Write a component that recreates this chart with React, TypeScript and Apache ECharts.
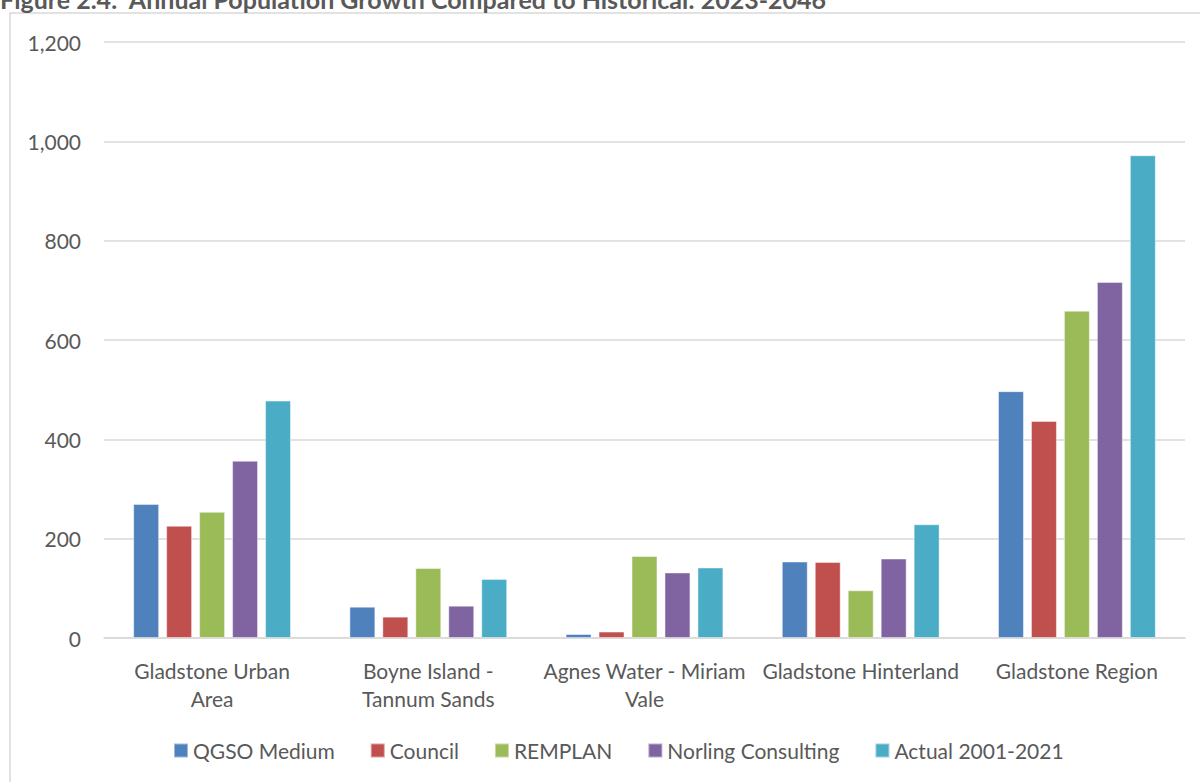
import React, { useEffect, useRef } from "react";
import * as echarts from "echarts";

// Regions along the category axis
const regions = [
  "Gladstone Urban Area",
  "Boyne Island - Tannum Sands",
  "Agnes Water - Miriam Vale",
  "Gladstone Hinterland",
  "Gladstone Region",
];
// Wrapped axis labels for the regions
const regionLabels = [
  "Gladstone Urban\nArea",
  "Boyne Island -\nTannum Sands",
  "Agnes Water - Miriam\nVale",
  "Gladstone Hinterland",
  "Gladstone Region",
];

// Annual population growth (persons per year) by source
const qgsoMedium = [270, 63, 8, 154, 497];
const council = [226, 43, 13, 153, 437];
const remplan = [254, 141, 165, 96, 659];
const norling = [357, 65, 132, 160, 717];
const actual = [478, 119, 142, 229, 972];

const seriesNames = [
  "QGSO Medium",
  "Council",
  "REMPLAN",
  "Norling Consulting",
  "Actual 2001-2021",
];
const seriesValues = [qgsoMedium, council, remplan, norling, actual];
const seriesColors = ["#4F81BD", "#C0504D", "#9BBB59", "#8064A2", "#4BACC6"];

const titleText =
  "Figure 2.4:  Annual Population Growth Compared to Historical: 2023-2046";

const FONT = "Lato, 'Open Sans', sans-serif";
const TEXT_COLOR = "#595959";
const GRID_COLOR = "#D9D9D9";

export default function App() {
  const ref = useRef<HTMLDivElement>(null);

  useEffect(() => {
    if (!ref.current) return;
    const chart = echarts.init(ref.current, null, { renderer: "svg" });

    chart.setOption({
      animation: false,
      backgroundColor: "#FFFFFF",
      textStyle: { fontFamily: FONT, color: TEXT_COLOR },
      graphic: [
        {
          type: "rect",
          shape: { x: 10, y: 13, width: 1220, height: 800 },
          style: { fill: "none", stroke: GRID_COLOR, lineWidth: 1.5 },
          silent: true,
        },
        {
          type: "text",
          x: 0,
          y: 11,
          style: {
            text: titleText,
            font: `bold 25px ${FONT}`,
            fill: TEXT_COLOR,
            verticalAlign: "bottom",
          },
        },
      ],
      grid: { left: 104, right: 15, top: 42, bottom: 144, containLabel: false },
      legend: {
        left: 168,
        top: 735,
        icon: "rect",
        itemWidth: 14,
        itemHeight: 14,
        itemGap: 35,
        textStyle: { fontFamily: FONT, fontSize: 21, color: TEXT_COLOR },
        data: seriesNames,
      },
      xAxis: {
        type: "category",
        data: regions,
        axisLine: { show: true, lineStyle: { color: GRID_COLOR, width: 1.5 } },
        axisTick: { show: false },
        axisLabel: {
          interval: 0,
          margin: 18,
          fontFamily: FONT,
          fontSize: 21,
          lineHeight: 28,
          color: TEXT_COLOR,
          formatter: (_v: string, i: number) => regionLabels[i],
        },
      },
      yAxis: {
        type: "value",
        min: 0,
        max: 1200,
        interval: 200,
        axisLine: { show: false },
        axisTick: { show: false },
        splitLine: { lineStyle: { color: GRID_COLOR, width: 1.5 } },
        axisLabel: {
          margin: 23,
          fontFamily: FONT,
          fontSize: 21,
          color: TEXT_COLOR,
          formatter: (v: number) => v.toLocaleString("en-US"),
        },
      },
      series: seriesNames.map((name, i) => ({
        name,
        type: "bar",
        data: seriesValues[i],
        barGap: "27%",
        barCategoryGap: "27%",
        itemStyle: {
          color: seriesColors[i],
          borderColor: "rgba(255,255,255,0.45)",
          borderWidth: 1,
        },
      })),
    });

    return () => chart.dispose();
  }, []);

  return (
    <div
      ref={ref}
      style={{ position: "fixed", left: 0, top: 0, width: 1200, height: 782 }}
    />
  );
}
